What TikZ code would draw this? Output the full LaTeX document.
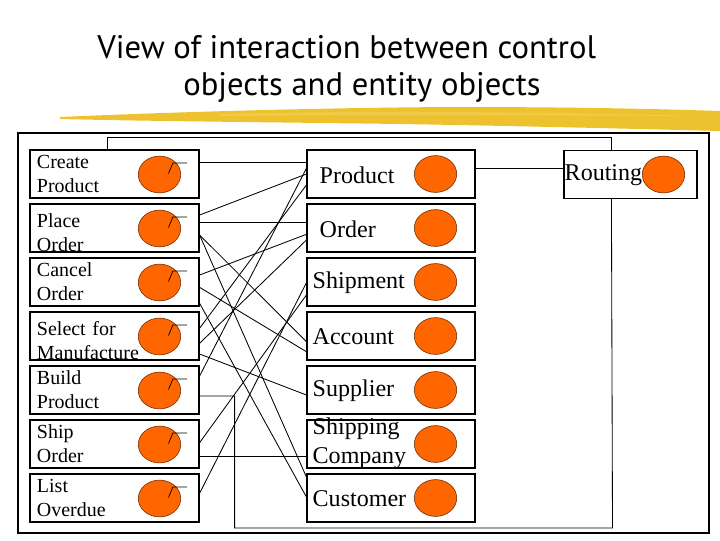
\documentclass[tikz,border=0pt]{standalone}
\usepackage{fontspec}
\setmainfont{Liberation Serif}
\newfontfamily\titlefont{PT Sans}
\usetikzlibrary{shapes.geometric,calc}
\definecolor{brushyellow}{RGB}{238,194,46}
\definecolor{brushlight}{RGB}{246,218,110}
\definecolor{blobfill}{RGB}{255,102,0}
\definecolor{blobline}{RGB}{110,40,0}

\begin{document}
\begin{tikzpicture}[x=0.025cm, y=-0.025cm,
        ctrlbox/.style={draw, line width=0.8pt, rectangle, minimum width=4.225cm, minimum height=1.2cm,
            text width=3.875cm, inner xsep=0.175cm, inner ysep=0pt, align=left, font=\fontsize{14.2}{17.1}\selectfont},
        lowtext/.style={text depth=10.5pt},
        entbox/.style={draw, line width=0.8pt, rectangle, minimum width=4.2cm, minimum height=1.2cm, inner sep=0pt},
        enttext/.style={anchor=west, inner sep=0pt, align=left, font=\fontsize{17.1}{20.6}\selectfont},
        blob/.style={draw=blobline, fill=blobfill, ellipse, line width=0.4pt, minimum width=1.06cm, minimum height=0.92cm, inner sep=0pt},
        wire/.style={line width=0.6pt}]
    \useasboundingbox (0,0) rectangle (720,540);

    % title and brush stroke
    \node[anchor=base west, inner sep=0pt, font=\titlefont\fontsize{23.2}{28}\selectfont] (title1) at (97,58) {View of interaction between control};
    \node[anchor=base west, inner sep=0pt, font=\titlefont\fontsize{23.2}{28}\selectfont] (title2) at (183,95) {objects and entity objects};
    \fill[brushyellow] (60,117) .. controls (150,113) and (300,108) .. (450,107)
        .. controls (580,107) and (660,109) .. (720,111) -- (720,131)
        .. controls (640,129) and (520,126) .. (400,124) .. controls (250,122) and (140,121) .. (60,119) -- cycle;
    \fill[brushlight, opacity=0.4] (220,114) .. controls (350,111) and (500,111) .. (700,116)
        .. controls (500,115) and (350,115) .. (220,116) -- cycle;

    \draw[line width=0.8pt] (18,133) rectangle (709,533);

    % control objects
    \node[ctrlbox] (createprod) at (114.5,174) {Create\\Product};
    \node[ctrlbox, lowtext] (placeorder) at (114.5,228) {Place\\Order};
    \node[ctrlbox] (cancelorder) at (114.5,282) {Cancel\\Order};
    \node[ctrlbox, lowtext] (selectmfg) at (114.5,336) {Select for\\Manufacture};
    \node[ctrlbox] (buildprod) at (114.5,390) {Build\\Product};
    \node[ctrlbox] (shiporder) at (114.5,444) {Ship\\Order};
    \node[ctrlbox] (listoverdue) at (114.5,498) {List\\Overdue};
    \foreach \n in {createprod,placeorder,cancelorder,selectmfg,buildprod,shiporder,listoverdue}{
        \node[blob] (\n-c) at ($(\n.center)+(45,0.5)$) {};
        \draw[line width=0.5pt] ($(\n-c.center)+(9,-1)$) -- ++(4.4,-10.6) -- ++(14,0);
    }

    % entity objects
    \node[entbox] (product) at (391,174) {};
    \node[entbox] (order) at (391,228) {};
    \node[entbox] (shipment) at (391,282) {};
    \node[entbox] (account) at (391,336) {};
    \node[entbox] (supplier) at (391,390) {};
    \node[entbox] (shipco) at (391,444) {};
    \node[entbox] (customer) at (391,498) {};
    \node[entbox, minimum width=3.325cm] (routing) at (630.5,174.5) {};
    \node[enttext] (product-t) at ($(product.west)+(13,1)$) {Product};
    \node[enttext] (order-t) at ($(order.west)+(13,1)$) {Order};
    \node[enttext] (shipment-t) at ($(shipment.west)+(6,1)$) {Shipment};
    \node[enttext] (account-t) at ($(account.west)+(6,1)$) {Account};
    \node[enttext] (supplier-t) at ($(supplier.west)+(6,1)$) {Supplier};
    \node[enttext] (shipco-t) at ($(shipco.west)+(6,-1)$) {Shipping\\Company};
    \node[enttext] (customer-t) at ($(customer.west)+(6,1)$) {Customer};
    \node[enttext] (routing-t) at ($(routing.west)+(1,1)$) {Routing};
    \foreach \n in {product,order,shipment,account,supplier,shipco,customer}
        \node[blob] (\n-c) at ($(\n.center)+(44.5,0)$) {};
    \node[blob] (routing-c) at ($(routing.center)+(33,0)$) {};

    % interactions
    \foreach \s/\a/\t/\b in {createprod/-11.7/product/-11.7, placeorder/-13/product/0,
            placeorder/-6/order/-6, placeorder/7/account/5.7, placeorder/7/customer/-21,
            cancelorder/-7/order/6.3, cancelorder/5.3/account/15.7, cancelorder/21.3/customer/-1,
            selectmfg/-7.7/product/11, selectmfg/7.3/order/12, selectmfg/18/supplier/5,
            buildprod/-14/product/-5.7, shiporder/-1.3/shipment/13, shiporder/12/shipco/12,
            listoverdue/-4.7/shipment/0.7}
        \draw[wire] ($(\s.east)+(0,\a)$) -- ($(\t.west)+(0,\b)$);
    \draw[wire] ($(product.east)+(0,-6)$) -- ($(routing.west)+(0,-6.5)$);
    \draw[wire] ($(createprod.north west)+(78,0)$) -- ++(0,-12) -| ($(routing.north west)+(48,0)$);
    \coordinate (wirecorner) at (612.5,528);
    \draw[wire] ($(buildprod.east)+(0,6)$) -- ++(35,0) |- (wirecorner) -- ($(routing.south west)+(48,0)$);
\end{tikzpicture}
\end{document}
